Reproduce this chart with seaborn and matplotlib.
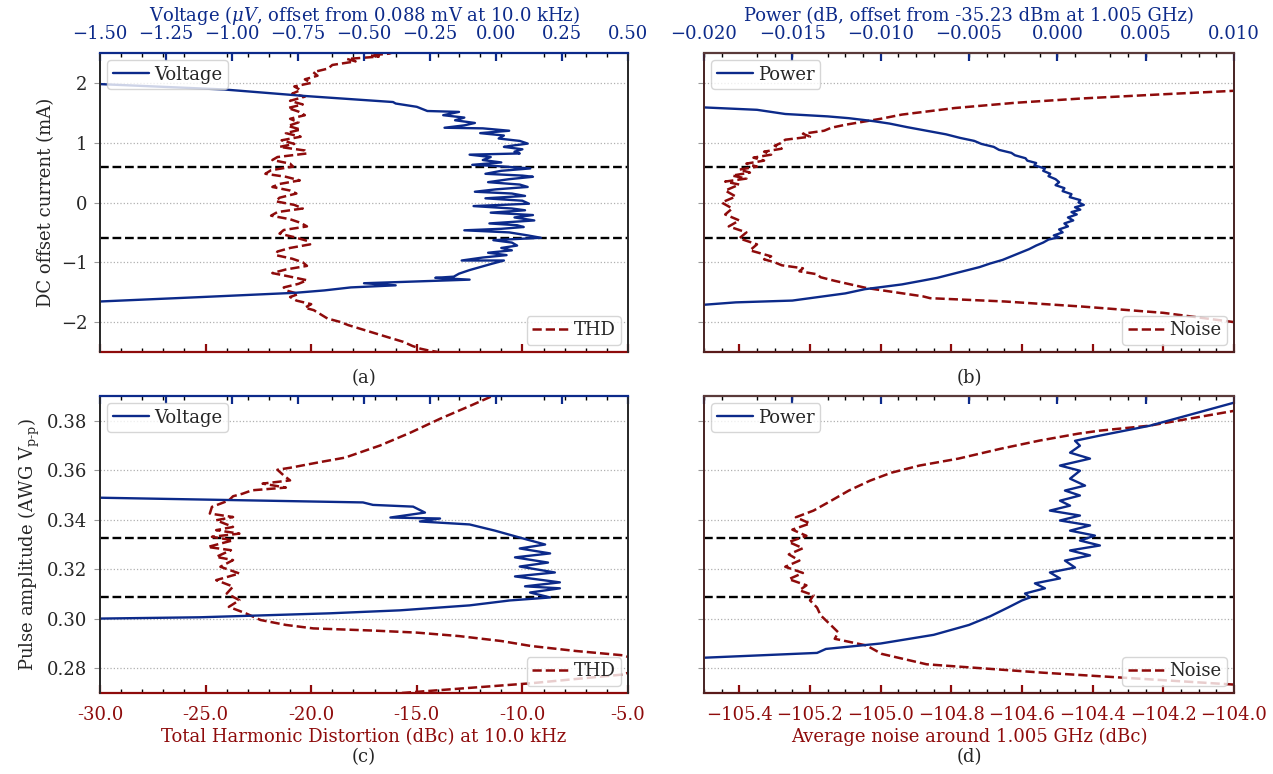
import matplotlib
matplotlib.use("Agg")
import matplotlib.pyplot as plt
from matplotlib.ticker import MultipleLocator, FuncFormatter
import seaborn as sns

BLUE = "#0c2a8a"
RED = "#8e0b0b"

# ---------------- (a) DC offset sweep, 10 kHz tone ----------------
a_cur_volt = [2.02, 1.98, 1.89, 1.78, 1.68, 1.655, 1.60, 1.53, 1.515, 1.46, 1.42, 1.375, 1.33,
              1.29, 1.25, 1.24, 1.20, 1.16, 1.12, 1.07, 1.03, 0.985, 0.95, 0.93, 0.89, 0.85,
              0.82, 0.80, 0.76, 0.71, 0.67, 0.63, 0.61, 0.57, 0.53, 0.48, 0.45, 0.43, 0.39,
              0.34, 0.30, 0.26, 0.22, 0.18, 0.15, 0.11, 0.07, 0.03, -0.02, -0.06, -0.10,
              -0.13, -0.17, -0.21, -0.25, -0.30, -0.35, -0.38, -0.41, -0.44, -0.465, -0.50,
              -0.55, -0.59, -0.63, -0.67, -0.72, -0.76, -0.80, -0.84, -0.88, -0.92, -0.97,
              -0.97, -1.03, -1.08, -1.13, -1.19, -1.24, -1.26, -1.29, -1.32, -1.35, -1.385,
              -1.42, -1.47, -1.51, -1.58, -1.665]
a_volt = [-1.55, -1.50, -1.03, -0.72, -0.39, -0.38, -0.30, -0.26, -0.14, -0.20, -0.12, -0.155, -0.08,
          -0.12, -0.195, -0.05, 0.05, -0.06, 0.03, 0.01, 0.09, 0.12, 0.06, 0.03, 0.10, 0.07,
          0.09, -0.10, -0.02, -0.05, 0.02, -0.09, 0.00, 0.13, 0.02, -0.04, 0.10, 0.14, 0.05,
          -0.03, 0.09, 0.12, 0.00, -0.08, 0.06, 0.11, -0.04, 0.10, 0.125, -0.085, 0.06,
          0.11, -0.02, 0.14, 0.07, 0.145, -0.025, 0.08, 0.105, 0.02, -0.12, 0.05,
          0.12, 0.17, -0.01, 0.06, 0.08, 0.02, 0.06, -0.03, 0.04, -0.05, -0.13,
          0.03, -0.02, -0.06, -0.10, -0.14, -0.16, -0.23, -0.10, -0.30, -0.50, -0.38,
          -0.55, -0.65, -0.76, -1.11, -1.55]

a_cur_thd = [2.53, 2.49, 2.46, 2.44, 2.40, 2.36, 2.30, 2.24, 2.18, 2.12, 2.06, 2.00, 1.94, 1.88,
             1.82, 1.77, 1.70, 1.64, 1.58, 1.52, 1.46, 1.40, 1.34, 1.28, 1.22, 1.16, 1.10, 1.04,
             0.98, 0.93, 0.87, 0.82, 0.76, 0.71, 0.65, 0.60, 0.54, 0.48, 0.43, 0.37, 0.31, 0.26,
             0.20, 0.15, 0.08, 0.02, -0.04, -0.10, -0.16, -0.22, -0.28, -0.34, -0.40, -0.46,
             -0.52, -0.58, -0.64, -0.70, -0.76, -0.82, -0.88, -0.94, -1.00, -1.06, -1.12, -1.18,
             -1.24, -1.30, -1.36, -1.42, -1.47, -1.53, -1.58, -1.64, -1.70, -1.76, -1.80, -1.86,
             -1.94, -2.00, -2.05, -2.12, -2.19, -2.26, -2.33, -2.40, -2.445, -2.47, -2.50, -2.53]
a_thd = [-16.0, -16.3, -17.2, -16.8, -18.3, -17.9, -19.0, -19.2, -19.9, -19.7, -20.3, -20.0, -20.8, -20.5,
         -20.9, -20.3, -21.0, -20.4, -21.1, -20.6, -20.3, -21.0, -20.6, -21.1, -20.5, -21.2, -20.5, -21.4,
         -20.8, -21.5, -20.3, -20.2, -21.6, -21.84, -21.0, -20.86, -21.9, -22.17, -21.2, -20.54, -21.5, -21.84,
         -21.0, -20.7, -21.5, -21.68, -20.8, -20.4, -21.6, -21.9, -21.0, -20.5, -20.2, -21.3,
         -21.5, -20.8, -20.2, -20.05, -21.0, -21.6, -21.68, -20.9, -20.4, -20.2, -21.2, -21.84,
         -21.0, -20.2, -20.6, -21.3, -21.19, -20.6, -21.0, -20.7, -20.0, -20.3, -19.88, -19.6,
         -19.23, -18.6, -18.25, -17.6, -16.95, -16.3, -15.64, -15.2, -14.82, -14.5, -14.0, -13.6]

# ---------------- (b) DC offset sweep, 1.005 GHz carrier ----------------
b_cur_pow = [1.595, 1.59, 1.55, 1.48, 1.44, 1.41, 1.36, 1.32, 1.26, 1.20, 1.14, 1.08, 1.03, 0.98,
             0.93, 0.88, 0.83, 0.79, 0.74, 0.70, 0.66, 0.62, 0.57, 0.53, 0.48, 0.44, 0.39, 0.34,
             0.29, 0.24, 0.19, 0.14, 0.09, 0.04, 0.00, -0.04, -0.08, -0.12, -0.16, -0.20, -0.25,
             -0.30, -0.35, -0.40, -0.45, -0.50, -0.55, -0.58, -0.62, -0.67, -0.72, -0.78, -0.84,
             -0.90, -0.96, -1.02, -1.08, -1.14, -1.20, -1.26, -1.31, -1.37, -1.45, -1.52, -1.60,
             -1.64, -1.67, -1.71, -1.72]
b_pow = [-0.021, -0.020, -0.0170, -0.0154, -0.0130, -0.0118, -0.0104, -0.0095, -0.0085, -0.0074,
         -0.0063, -0.0055, -0.0047, -0.0043, -0.0036, -0.0033, -0.0026, -0.0024, -0.0018, -0.0017,
         -0.0012, -0.0013, -0.0007, -0.0008, -0.0004, -0.0005, -0.0001, 0.0001, -0.0001, 0.0004,
         0.0003, 0.0008, 0.0007, 0.0013, 0.0012, 0.0015, 0.0010, 0.0013, 0.0008, 0.0011, 0.0006,
         0.0009, 0.0004, 0.0006, 0.0001, 0.0003, -0.0002, 0.0001, -0.0005, -0.0008, -0.0012,
         -0.0016, -0.0021, -0.0026, -0.0031, -0.0038, -0.0044, -0.0052, -0.0060, -0.0068,
         -0.0077, -0.0088, -0.0109, -0.0120, -0.0140, -0.0150, -0.0182, -0.0200, -0.021]

b_cur_noise = [1.92, 1.868, 1.81, 1.74, 1.667, 1.58, 1.47, 1.40, 1.35, 1.30, 1.25, 1.20, 1.15, 1.10,
               1.05, 1.00, 0.95, 0.90, 0.85, 0.80, 0.75, 0.70, 0.65, 0.60, 0.55, 0.50, 0.45, 0.40,
               0.35, 0.30, 0.20, 0.10, 0.00, -0.10, -0.20, -0.30, -0.40, -0.50, -0.60, -0.70,
               -0.80, -0.90, -0.95, -1.00, -1.05, -1.10, -1.15, -1.20, -1.25, -1.31, -1.43, -1.57,
               -1.60, -1.655, -1.74, -1.845, -2.00, -2.03]
b_noise = [-103.95, -104.0, -104.2, -104.43, -104.62, -104.79, -104.94, -105.0, -105.05, -105.10,
           -105.14, -105.16, -105.22, -105.20, -105.27, -105.28, -105.30, -105.28, -105.33, -105.31,
           -105.36, -105.33, -105.38, -105.35, -105.40, -105.37, -105.42, -105.38, -105.44, -105.40,
           -105.44, -105.41, -105.45, -105.42, -105.44, -105.40, -105.43, -105.38, -105.40, -105.35,
           -105.37, -105.31, -105.33, -105.30, -105.28, -105.22, -105.23, -105.18, -105.17, -105.13,
           -105.04, -104.88, -104.86, -104.65, -104.43, -104.2, -104.0, -103.95]

# ---------------- (c) pulse amplitude sweep, 10 kHz tone ----------------
c_amp_volt = [0.349, 0.347, 0.346, 0.3453, 0.3429, 0.3409, 0.3405, 0.3393, 0.3381, 0.3356, 0.3328,
              0.3300, 0.3284, 0.3264, 0.3248, 0.3227, 0.3211, 0.3187, 0.3171, 0.3147, 0.3131,
              0.3123, 0.3106, 0.3086, 0.3074, 0.3054, 0.3034, 0.3022, 0.3006, 0.3000]
c_volt = [-1.55, -0.504, -0.466, -0.314, -0.269, -0.40, -0.212, -0.288, -0.10, -0.004, 0.09,
          0.186, 0.09, 0.205, 0.072, 0.197, 0.09, 0.223, 0.072, 0.242, 0.11,
          0.242, 0.129, 0.205, 0.053, -0.10, -0.364, -0.629, -1.12, -1.55]

c_amp_thd = [0.3897, 0.386, 0.3808, 0.3752, 0.370, 0.3651, 0.3633, 0.3610, 0.3602, 0.3579, 0.3559,
             0.3546, 0.3530, 0.3519, 0.3505, 0.3495, 0.3478, 0.3452, 0.3425, 0.3411, 0.3398,
             0.3371, 0.3358, 0.3344, 0.3331, 0.3317, 0.3290, 0.3277, 0.3250, 0.3237, 0.3210,
             0.3183, 0.3156, 0.3130, 0.3102, 0.3075, 0.3048, 0.3022, 0.2995, 0.2975, 0.2961,
             0.2952, 0.2944, 0.2930, 0.2910, 0.2890, 0.2870, 0.2852, 0.2815, 0.2775, 0.2739,
             0.2697]
c_thd = [-11.5, -12.48, -13.9, -15.3, -16.74, -18.4, -19.58, -21.0, -21.6, -21.3, -21.0,
         -22.3, -21.2, -22.8, -23.26, -23.7, -23.9, -24.7, -24.8, -23.7, -24.5,
         -23.7, -24.5, -23.4, -24.7, -23.7, -24.9, -23.8, -24.5, -23.7, -24.3,
         -23.4, -24.5, -23.7, -24.0, -23.4, -23.9, -23.1, -22.4, -21.2, -19.9,
         -17.0, -15.0, -13.0, -11.0, -9.6, -7.5, -5.2, -4.0, -5.2, -9.64,
         -16.2]

# ---------------- (d) pulse amplitude sweep, 1.005 GHz carrier ----------------
d_amp_pow = [0.2841, 0.2862, 0.2878, 0.2900, 0.2935, 0.2975, 0.3010, 0.3045, 0.3074, 0.3086,
             0.3102, 0.3123, 0.3143, 0.3163, 0.3187, 0.3207, 0.3235, 0.3256, 0.3276, 0.3296,
             0.3316, 0.3336, 0.3356, 0.3377, 0.3397, 0.3417, 0.3437, 0.3457, 0.3477, 0.3498,
             0.3518, 0.3538, 0.3566, 0.3598, 0.3619, 0.3647, 0.3671, 0.3699, 0.3719, 0.3740,
             0.3780, 0.3873, 0.3900]
d_pow = [-0.0205, -0.0136, -0.0131, -0.0100, -0.0070, -0.0050, -0.0038, -0.0028, -0.0020,
         -0.00155, -0.00183, -0.0007, -0.00127, 0.00015, -0.00042, 0.0010, 0.00043, 0.00185,
         0.00072, 0.00241, 0.00128, 0.00213, 0.00072, 0.00185, 0.00015, 0.00128, -0.00042,
         0.00072, 0.00015, 0.00128, 0.00043, 0.00157, 0.00072, 0.00128, 0.00015, 0.00185,
         0.00072, 0.00128, 0.0010, 0.00241, 0.00524, 0.0100, 0.0110]

d_amp_noise = [0.3860, 0.3840, 0.3780, 0.3760, 0.3748, 0.3720, 0.3687, 0.3647, 0.3619, 0.3590,
               0.3558, 0.3518, 0.3477, 0.3437, 0.3410, 0.3385, 0.3360, 0.3335, 0.3310, 0.3285,
               0.3260, 0.3235, 0.3210, 0.3185, 0.3160, 0.3135, 0.3115, 0.3095, 0.3074, 0.3045,
               0.3014, 0.2973, 0.2945, 0.2919, 0.2892, 0.2858, 0.2816, 0.2782, 0.2734, 0.2725]
d_noise = [-103.95, -104.0, -104.24, -104.38, -104.44, -104.55, -104.66, -104.78, -104.89, -104.97,
           -105.03, -105.09, -105.14, -105.19, -105.24, -105.20, -105.25, -105.21, -105.26, -105.22,
           -105.26, -105.23, -105.27, -105.22, -105.26, -105.21, -105.23, -105.19, -105.20, -105.18,
           -105.17, -105.14, -105.12, -105.13, -105.04, -104.997, -104.87, -104.54, -104.0, -103.95]

cur_window = [-0.6, 0.6]
amp_window = [0.3087, 0.3325]

cur_ticks = [-2, -1, 0, 1, 2]
amp_ticks = [0.28, 0.30, 0.32, 0.34, 0.36, 0.38]

sns.set_theme(style="white")
plt.rcParams.update({
    "font.family": ["DejaVu Serif"],
    "mathtext.fontset": "dejavuserif",
    "font.size": 13,
    "axes.labelsize": 13,
    "xtick.labelsize": 13,
    "ytick.labelsize": 13,
    "legend.fontsize": 13,
})

W, H = 1273, 774
fig = plt.figure(figsize=(W / 100, H / 100), dpi=100)


def rect(x0, x1, y0, y1):
    return [x0 / W, 1 - y1 / H, (x1 - x0) / W, (y1 - y0) / H]


def fmt(decimals, unicode_minus=True):
    def f(v, pos):
        if abs(v) < 1e-12:
            v = 0.0
        s = f"{v:.{decimals}f}"
        return s.replace("-", "\u2212") if unicode_minus else s
    return FuncFormatter(f)


boxes = {
    "a": rect(100, 628, 53, 352),
    "b": rect(704, 1234, 53, 352),
    "c": rect(100, 628, 396, 693),
    "d": rect(704, 1234, 396, 693),
}

panels = [
    dict(key="a", row=0, col=0, yt=a_cur_volt, xt=a_volt, yb=a_cur_thd, xb=a_thd,
         tlab="Voltage", blab="THD", tlim=(-1.5, 0.5), blim=(-30, -5), tmaj=0.25, bmaj=5, bmin=1,
         tfmt=fmt(2), bfmt=fmt(1, False), ylim=(-2.5, 2.5), yticks=cur_ticks, yfmt=fmt(0),
         win=cur_window),
    dict(key="b", row=0, col=1, yt=b_cur_pow, xt=b_pow, yb=b_cur_noise, xb=b_noise,
         tlab="Power", blab="Noise", tlim=(-0.02, 0.01), blim=(-105.5, -104.0), tmaj=0.005,
         bmaj=0.2, bmin=0.05, tfmt=fmt(3), bfmt=fmt(1), ylim=(-2.5, 2.5), yticks=cur_ticks,
         yfmt=fmt(0), win=cur_window),
    dict(key="c", row=1, col=0, yt=c_amp_volt, xt=c_volt, yb=c_amp_thd, xb=c_thd,
         tlab="Voltage", blab="THD", tlim=(-1.5, 0.5), blim=(-30, -5), tmaj=0.25, bmaj=5, bmin=1,
         tfmt=fmt(2), bfmt=fmt(1, False), ylim=(0.27, 0.39), yticks=amp_ticks, yfmt=fmt(2),
         win=amp_window),
    dict(key="d", row=1, col=1, yt=d_amp_pow, xt=d_pow, yb=d_amp_noise, xb=d_noise,
         tlab="Power", blab="Noise", tlim=(-0.02, 0.01), blim=(-105.5, -104.0), tmaj=0.005,
         bmaj=0.2, bmin=0.05, tfmt=fmt(3), bfmt=fmt(1), ylim=(0.27, 0.39), yticks=amp_ticks,
         yfmt=fmt(2), win=amp_window),
]

top_titles = ["Voltage ($\\mu V$, offset from 0.088 mV at 10.0 kHz)",
              "Power (dB, offset from -35.23 dBm at 1.005 GHz)"]
bottom_titles = ["Total Harmonic Distortion (dBc) at 10.0 kHz",
                 "Average noise around 1.005 GHz (dBc)"]
ylabels = ["DC offset current (mA)", "Pulse amplitude (AWG V$_{\\mathrm{p\u2010p}}$)"]

for p in panels:
    ax = fig.add_axes(boxes[p["key"]])
    axt = ax.twiny()
    side_col = "#2a2a2a" if p["col"] == 0 else "#4a2626"

    # THD / noise on the bottom scale
    sns.lineplot(x=p["xb"], y=p["yb"], sort=False, estimator=None, ax=ax, color=RED,
                 lw=1.8, linestyle="--", label=p["blab"])
    for yv in p["win"]:
        ax.axhline(yv, color="black", ls="--", lw=1.7, zorder=1)

    # voltage / power on the top scale
    sns.lineplot(x=p["xt"], y=p["yt"], sort=False, estimator=None, ax=axt, color=BLUE,
                 lw=1.7, label=p["tlab"])

    ax.set_xlim(*p["blim"])
    axt.set_xlim(*p["tlim"])
    ax.set_ylim(*p["ylim"])
    ax.set_yticks(p["yticks"])
    ax.yaxis.set_major_formatter(p["yfmt"])
    ax.yaxis.grid(True, linestyle=":", color="#b0b0b0", lw=0.9)
    ax.xaxis.grid(False)
    axt.grid(False)

    ax.xaxis.set_major_locator(MultipleLocator(p["bmaj"]))
    ax.xaxis.set_minor_locator(MultipleLocator(p["bmin"]))
    ax.xaxis.set_major_formatter(p["bfmt"])
    axt.xaxis.set_major_locator(MultipleLocator(p["tmaj"]))
    axt.xaxis.set_major_formatter(p["tfmt"])

    ax.tick_params(axis="x", which="major", direction="in", length=6, width=1.6,
                   color=RED, labelcolor=RED, bottom=True, top=False,
                   labelbottom=(p["row"] == 1), pad=9)
    ax.tick_params(axis="x", which="minor", direction="in", length=3, width=1.0,
                   color="black", bottom=True, top=True)
    axt.tick_params(axis="x", which="major", direction="in", length=6, width=1.6,
                    color=BLUE, labelcolor=BLUE, top=True, bottom=False,
                    labeltop=(p["row"] == 0), pad=7)
    axt.tick_params(axis="x", which="minor", top=False, bottom=False)
    ax.tick_params(axis="y", which="major", direction="out", length=4, width=0.8,
                   color="#999999", left=True, right=False, labelleft=(p["col"] == 0), pad=5)

    for s in ("left", "right"):
        ax.spines[s].set_color(side_col)
        axt.spines[s].set_color(side_col)
        ax.spines[s].set_linewidth(1.3)
        axt.spines[s].set_linewidth(1.3)
    ax.spines["bottom"].set_color(RED if p["col"] == 0 else "#5a1a1a")
    ax.spines["bottom"].set_linewidth(1.6)
    axt.spines["bottom"].set_visible(False)
    axt.spines["top"].set_color(BLUE if p["col"] == 0 else "#5a3a3a")
    axt.spines["top"].set_linewidth(1.6)
    ax.spines["top"].set_visible(False)

    if p["row"] == 0:
        axt.set_xlabel(top_titles[p["col"]], color=BLUE, labelpad=3)
    else:
        axt.set_xlabel("")
    if p["row"] == 1:
        ax.set_xlabel(bottom_titles[p["col"]], color=RED, labelpad=3)
    else:
        ax.set_xlabel("")
    if p["col"] == 0:
        ax.set_ylabel(ylabels[p["row"]])
    else:
        ax.set_ylabel("")
    axt.set_ylabel("")

    axt.legend(loc="upper left", frameon=True, fancybox=True, edgecolor="#cccccc",
               borderpad=0.3, handlelength=2.0, handletextpad=0.3, borderaxespad=0.4)
    ax.legend(loc="lower right", frameon=True, fancybox=True, edgecolor="#cccccc",
              borderpad=0.3, handlelength=2.0, handletextpad=0.3, borderaxespad=0.4)

captions = {"a": (364, 378), "b": (969, 378), "c": (364, 757), "d": (969, 757)}
for k, (cx, cy) in captions.items():
    fig.text(cx / W, 1 - cy / H, f"({k})", ha="center", va="center", fontsize=13)

fig.savefig("out.png", dpi=100)
